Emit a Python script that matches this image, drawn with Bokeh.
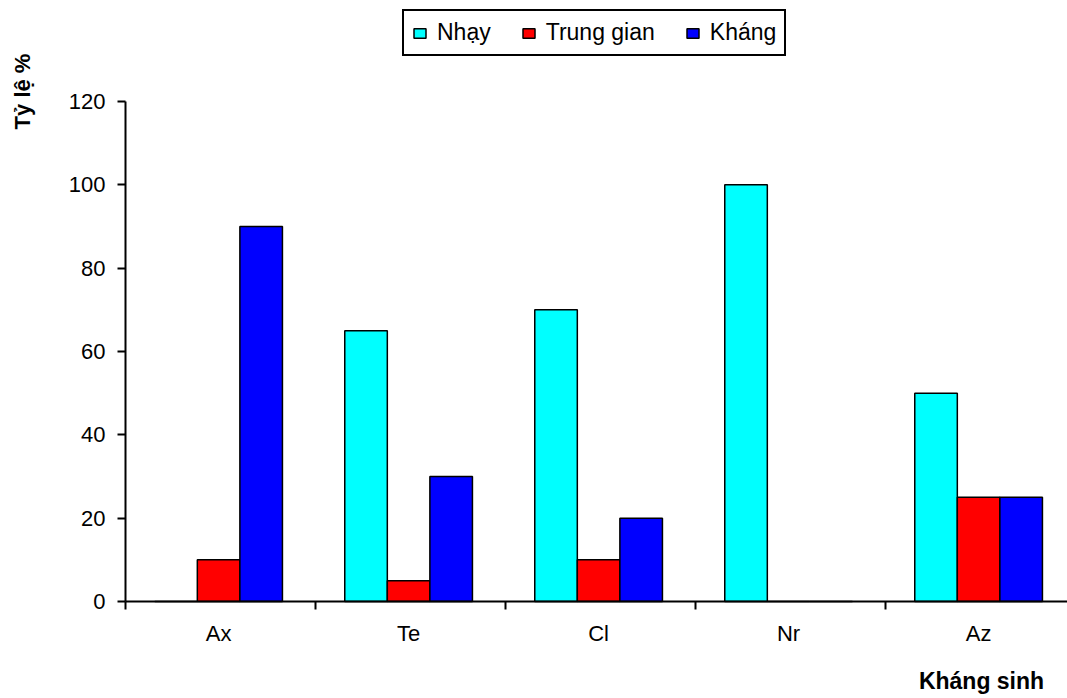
import math
from bokeh.plotting import figure
from bokeh.models import (FixedTicker, Legend, LegendItem, Label, Range1d, ColumnDataSource,
                          LinearAxis, BoxAnnotation)
from bokeh.embed import file_html
from bokeh.resources import INLINE

categories = ["Ax", "Te", "Cl", "Nr", "Az"]
series_names = ["Nhạy", "Trung gian", "Kháng"]
nhay = [0, 65, 70, 100, 50]
trung_gian = [10, 5, 10, 0, 25]
khang = [90, 30, 20, 0, 25]
y_ticks = [0, 20, 40, 60, 80, 100, 120]
colors = ["#00FFFF", "#FF0000", "#0000FF"]

FONT = "Liberation Sans"
W, H = 1067, 698
# pixel layout of the plotting area inside the page
LEFT, BOTTOM, TOP = 125, 601, 101
px_per_cat = 190.0
px_per_unit = (BOTTOM - TOP) / 120.0
x_end = (W - LEFT) / px_per_cat

p = figure(width=W, height=H, output_backend="svg", toolbar_location=None,
           min_border=0, min_border_left=0, min_border_right=0,
           min_border_top=0, min_border_bottom=0,
           x_axis_type=None, y_axis_type=None,
           x_range=Range1d(-LEFT / px_per_cat, x_end),
           y_range=Range1d(-(H - BOTTOM) / px_per_unit, BOTTOM / px_per_unit))
p.outline_line_color = None
p.background_fill_color = "white"
p.border_fill_color = "white"

centers = [i + 0.49 for i in range(len(categories))]
width = 0.224
offsets = [-width, 0, width]
renderers = []
for vals, off, col in zip([nhay, trung_gian, khang], offsets, colors):
    src = ColumnDataSource(dict(x=[c + off for c in centers], top=vals))
    r = p.vbar(x="x", top="top", width=width, source=src, fill_color=col,
               line_color="black", line_width=1.5)
    renderers.append(r)

# axes drawn at fixed positions
yaxis = LinearAxis(fixed_location=0, bounds=(0, 120), ticker=FixedTicker(ticks=y_ticks))
yaxis.axis_line_color = "black"
yaxis.axis_line_width = 2
yaxis.major_tick_out = 8
yaxis.major_tick_in = 0
yaxis.major_tick_line_width = 2
yaxis.minor_tick_line_color = None
yaxis.major_label_text_font = FONT
yaxis.major_label_text_font_size = "22px"
yaxis.major_label_text_color = "black"
yaxis.major_label_standoff = 12
p.add_layout(yaxis, "left")

xaxis = LinearAxis(fixed_location=0, bounds=(0, x_end),
                   ticker=FixedTicker(ticks=centers, minor_ticks=list(range(len(categories) + 1))))
xaxis.major_label_overrides = {c: lab for c, lab in zip(centers, categories)}
xaxis.axis_line_color = "black"
xaxis.axis_line_width = 2
xaxis.major_tick_out = 0
xaxis.major_tick_in = 0
xaxis.minor_tick_out = 8
xaxis.minor_tick_in = 0
xaxis.minor_tick_line_color = "black"
xaxis.minor_tick_line_width = 2
xaxis.major_label_text_font = FONT
xaxis.major_label_text_font_size = "22px"
xaxis.major_label_text_color = "black"
xaxis.major_label_standoff = 11
p.add_layout(xaxis, "below")

p.ygrid.ticker = FixedTicker(ticks=y_ticks)
p.ygrid.grid_line_color = "black"
p.ygrid.grid_line_width = 2
p.xgrid.visible = False

# white mask left of the value axis so grid lines start at the axis
mask = BoxAnnotation(right=0, fill_color="white", fill_alpha=1, line_color=None, level="glyph")
p.add_layout(mask)

legend = Legend(items=[LegendItem(label=n, renderers=[r]) for n, r in zip(series_names, renderers)],
                orientation="horizontal", location=(402, H - 56),
                border_line_color="black", border_line_width=2, border_line_alpha=1,
                label_text_font=FONT, label_text_font_size="23px", label_text_color="black",
                glyph_width=15, glyph_height=12, label_standoff=10, spacing=30,
                padding=8, margin=0, background_fill_alpha=1)
p.add_layout(legend, "center")

ytitle = Label(x=22, y=H - 91, x_units="screen", y_units="screen", text="Tỷ lệ %",
               angle=math.pi / 2, text_align="center", text_baseline="middle",
               text_color="black",
               text_font=FONT, text_font_style="bold", text_font_size="22px")
p.add_layout(ytitle)
xtitle = Label(x=981, y=H - 680, x_units="screen", y_units="screen", text="Kháng sinh",
               text_align="center", text_baseline="middle", text_color="black",
               text_font=FONT, text_font_style="bold", text_font_size="23px")
p.add_layout(xtitle)

open("out.html", "w").write(file_html(p, INLINE))
